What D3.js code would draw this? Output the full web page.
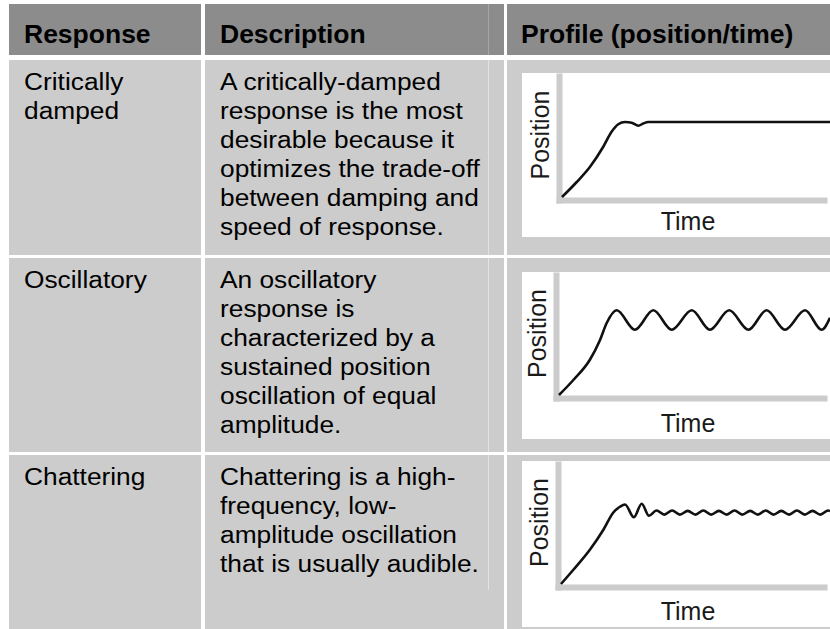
<!DOCTYPE html>
<html><head><meta charset="utf-8">
<script src="https://cdn.jsdelivr.net/npm/d3@7"></script>
<style>html,body{margin:0;padding:0;background:#fff;} svg{display:block;font-family:"Liberation Sans",Arial,Helvetica,sans-serif;}</style>
</head><body>
<svg id="chart" width="830" height="629"></svg>
<script>
// ---------------- data ----------------
const headers = ["Response", "Description", "Profile (position/time)"];
const responseLines = [["Critically", "damped"], ["Oscillatory"], ["Chattering"]];
const descLines = [
  ["A critically-damped", "response is the most", "desirable because it", "optimizes the trade-off", "between damping and", "speed of response."],
  ["An oscillatory", "response is", "characterized by a", "sustained position", "oscillation of equal", "amplitude."],
  ["Chattering is a high-", "frequency, low-", "amplitude oscillation", "that is usually audible."]
];
const axisLabelX = "Time";
const axisLabelY = "Position";

// critically damped profile (time 0-100, position relative to final value)
const critT = [0, 5.5, 10.4, 15.4, 18.5, 21.0, 23.5, 26.0, 28.5, 30.3, 32.2, 40, 100];
const critP = [0, 0.20, 0.40, 0.67, 0.87, 0.97, 1.00, 0.99, 0.95, 0.98, 1.00, 1.00, 1.00];
// oscillatory profile
const oscT = [0, 5.3, 11.4, 15.1, 17.6, 21.3, 28.0, 34.8, 41.6, 49.0, 55.7, 62.8, 69.9, 76.6, 83.4, 90.8, 96.9, 100];
const oscP = [0, 0.20, 0.47, 0.73, 0.96, 1.13, 0.87, 1.13, 0.87, 1.13, 0.87, 1.13, 0.87, 1.13, 0.87, 1.13, 0.87, 1.03];
// chattering profile
const chatT = [0, 4.6, 10.8, 15.7, 19.4, 21.9, 23.8, 27.1, 30.0, 32.7, 35.5, 38.4, 41.3, 44.2, 47.1, 50.0, 52.9, 55.8, 58.7, 61.6, 64.5, 67.4, 70.3, 73.2, 76.1, 79.0, 81.9, 84.8, 87.7, 90.6, 93.5, 96.4, 99.3, 100];
const chatP = [0, 0.19, 0.46, 0.72, 0.95, 1.03, 1.06, 0.89, 1.07, 0.91, 0.98, 0.925, 0.98, 0.925, 0.975, 0.925, 0.98, 0.925, 0.975, 0.925, 0.98, 0.925, 0.975, 0.925, 0.98, 0.925, 0.975, 0.925, 0.98, 0.925, 0.975, 0.925, 0.98, 0.97];

const profiles = [
  critT.map((t, i) => ({t, p: critP[i]})),
  oscT.map((t, i) => ({t, p: oscP[i]})),
  chatT.map((t, i) => ({t, p: chatP[i]}))
];

// ---------------- layout ----------------
const W = 830;
const svg = d3.select("#chart");
const cols = [{x0: 9, x1: 201, tx: 24}, {x0: 205, x1: 504, tx: 220}, {x0: 507, x1: 830, tx: 521}];
const splitX = 488.5;
const header = {y0: 4, y1: 55, base: 43};
const rows = [{y0: 60, y1: 255}, {y0: 258, y1: 452}, {y0: 455, y1: 629}];
const panels = [
  {bx: 522, by0: 73, by1: 237, ox: 562, oy: 197},
  {bx: 522, by0: 272, by1: 439, ox: 559, oy: 395},
  {bx: 522, by0: 461, by1: 627, ox: 561, oy: 584}
];
const unitPx = 75;
const headerColor = "#8c8c8c", cellColor = "#cccccc";
const bodySize = 23.5, bodySX = 1.12, headSize = 25, headSX = 1.06, lineStep = 29;

// header
cols.forEach((c, i) => {
  svg.append("rect").attr("x", c.x0).attr("y", header.y0).attr("width", c.x1 - c.x0).attr("height", header.y1 - header.y0).attr("fill", headerColor);
  svg.append("text").attr("transform", `translate(${c.tx},${header.base}) scale(${headSX},1)`)
    .attr("font-size", headSize).attr("font-weight", "bold").attr("fill", "#000").text(headers[i]);
});
svg.append("line").attr("x1", splitX).attr("x2", splitX).attr("y1", header.y0).attr("y2", header.y1).attr("stroke", "#a6a6a6").attr("stroke-width", 1);

// rows
rows.forEach((r, ri) => {
  cols.forEach(c => {
    svg.append("rect").attr("x", c.x0).attr("y", r.y0).attr("width", c.x1 - c.x0).attr("height", r.y1 - r.y0).attr("fill", cellColor);
  });
  svg.append("line").attr("x1", splitX).attr("x2", splitX).attr("y1", r.y0).attr("y2", ri === 2 ? 590 : r.y1).attr("stroke", "#e2e2e2").attr("stroke-width", 1);
  responseLines[ri].forEach((s, li) => {
    svg.append("text").attr("transform", `translate(${cols[0].tx},${r.y0 + 30 + li * lineStep}) scale(${bodySX},1)`)
      .attr("font-size", bodySize).attr("fill", "#000").text(s);
  });
  descLines[ri].forEach((s, li) => {
    svg.append("text").attr("transform", `translate(${cols[1].tx},${r.y0 + 30 + li * lineStep}) scale(${bodySX},1)`)
      .attr("font-size", bodySize).attr("fill", "#000").text(s);
  });

  // profile panel
  const pn = panels[ri];
  const g = svg.append("g");
  g.append("rect").attr("x", pn.bx).attr("y", pn.by0).attr("width", W - pn.bx).attr("height", pn.by1 - pn.by0).attr("fill", "#fff");
  const x = d3.scaleLinear().domain([0, 100]).range([pn.ox, W]);
  const y = d3.scaleLinear().domain([0, 1]).range([pn.oy, pn.oy - unitPx]);
  const yTop = y.invert(pn.by0);
  const xAxisScale = d3.scaleLinear().domain([0, 100]).range([pn.ox - 6, W - 3]);
  const yAxisScale = d3.scaleLinear().domain([0, yTop]).range([pn.oy + 6, pn.by0]);
  const gx = g.append("g").attr("transform", `translate(0,${pn.oy + 3})`)
    .call(d3.axisBottom(xAxisScale).tickValues([]).tickSizeOuter(0));
  const gy = g.append("g").attr("transform", `translate(${pn.ox - 3},0)`)
    .call(d3.axisLeft(yAxisScale).tickValues([]).tickSizeOuter(0));
  [gx, gy].forEach(a => a.select(".domain").attr("stroke", "#cccccc").attr("stroke-width", 6));

  const line = d3.line().x(d => x(d.t)).y(d => y(d.p)).curve(d3.curveMonotoneX);
  g.append("path").datum(profiles[ri]).attr("d", line)
    .attr("fill", "none").attr("stroke", "#111").attr("stroke-width", 2.6).attr("stroke-linejoin", "round");

  g.append("text").attr("transform", `translate(${pn.ox - 13},${(pn.by0 + pn.oy) / 2}) rotate(-90)`)
    .attr("text-anchor", "middle").attr("font-size", 25).attr("fill", "#1a1a1a").text(axisLabelY);
  g.append("text").attr("x", 688).attr("y", pn.by1 - 7)
    .attr("text-anchor", "middle").attr("font-size", 25).attr("fill", "#1a1a1a").text(axisLabelX);
});
</script>
</body></html>
